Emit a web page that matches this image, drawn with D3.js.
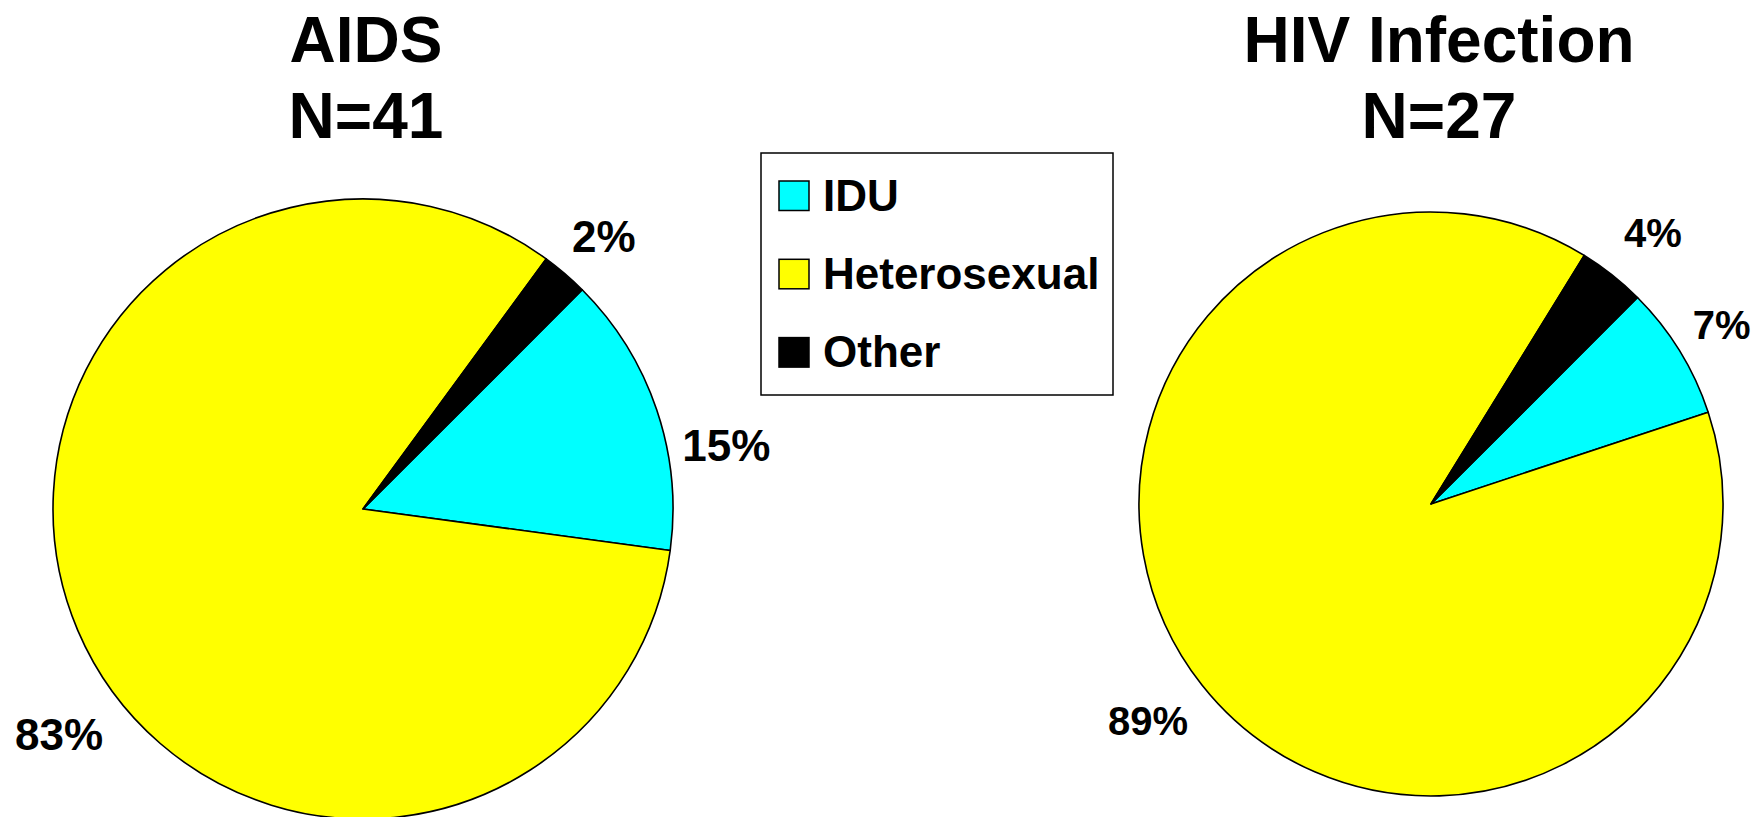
<!DOCTYPE html>
<html>
<head>
<meta charset="utf-8">
<script src="https://d3js.org/d3.v7.min.js"></script>
<style>
  body { margin: 0; background: #fff; }
  text { font-family: "Liberation Sans", Arial, sans-serif; font-weight: bold; fill: #000; }
</style>
</head>
<body>
<div id="chart"></div>
<script>
// data
var categories = ["IDU", "Heterosexual", "Other"];
var colors = ["#00FFFF", "#FFFF00", "#000000"];
var aidsTitle = ["AIDS", "N=41"];
var aidsCounts = [6, 34, 1];
var hivTitle = ["HIV Infection", "N=27"];
var hivCounts = [2, 24, 1];

var width = 1754,
    height = 817;

var svg = d3.select("#chart")
    .append("svg")
    .attr("width", width)
    .attr("height", height);

var color = d3.scaleOrdinal()
    .domain(categories)
    .range(colors);

// pies start at 45 deg, clockwise, in data order
var pie = d3.pie()
    .sort(null)
    .value(function (d) { return d.count; })
    .startAngle(Math.PI / 4)
    .endAngle(Math.PI / 4 + 2 * Math.PI);

// label placement: [angle in deg from 12 o'clock, radius factor]
var charts = [
    { title: aidsTitle, counts: aidsCounts, cx: 363, cy: 509, r: 310, titleX: 366, labelSize: 44,
      labelPos: [[80, 1.19], [233.5, 1.22], [41.4, 1.175]] },
    { title: hivTitle, counts: hivCounts, cx: 1431, cy: 504, r: 292, titleX: 1439, labelSize: 40,
      labelPos: [[58.3, 1.17], [232.6, 1.22], [39.3, 1.2]] }
];

charts.forEach(function (c) {
    var total = d3.sum(c.counts);
    var rows = categories.map(function (k, i) { return { cat: k, count: c.counts[i] }; });

    var arc = d3.arc().innerRadius(0).outerRadius(c.r);

    var g = svg.append("g")
        .attr("transform", "translate(" + c.cx + "," + c.cy + ")");

    g.selectAll("path")
        .data(pie(rows))
        .enter()
        .append("path")
        .attr("d", arc)
        .style("fill", function (d) { return color(d.data.cat); })
        .style("stroke", "#000")
        .style("stroke-width", 1.6)
        .style("stroke-linejoin", "round");

    g.selectAll(".lbl")
        .data(rows)
        .enter()
        .append("text")
        .attr("class", "lbl")
        .attr("text-anchor", "middle")
        .style("font-size", c.labelSize + "px")
        .attr("x", function (d, i) {
            var p = c.labelPos[i];
            return Math.sin(p[0] * Math.PI / 180) * c.r * p[1];
        })
        .attr("y", function (d, i) {
            var p = c.labelPos[i];
            return -Math.cos(p[0] * Math.PI / 180) * c.r * p[1] + 0.358 * c.labelSize;
        })
        .text(function (d) { return Math.round(d.count / total * 100) + "%"; });

    svg.selectAll(null)
        .data(c.title)
        .enter()
        .append("text")
        .attr("text-anchor", "middle")
        .attr("x", c.titleX)
        .attr("y", function (d, i) { return 61.7 + i * 76; })
        .style("font-size", "64px")
        .text(function (d) { return d; });
});

// legend
var legend = svg.append("g").attr("transform", "translate(761,153)");

legend.append("rect")
    .attr("width", 352)
    .attr("height", 242)
    .style("fill", "#fff")
    .style("stroke", "#000")
    .style("stroke-width", 1.5);

var item = legend.selectAll(".item")
    .data(categories)
    .enter()
    .append("g")
    .attr("class", "item")
    .attr("transform", function (d, i) { return "translate(18," + (28 + i * 78.3) + ")"; });

item.append("rect")
    .attr("width", 30)
    .attr("height", 29.5)
    .style("fill", function (d) { return color(d); })
    .style("stroke", "#000")
    .style("stroke-width", 1.5);

item.append("text")
    .attr("x", 44)
    .attr("y", 29.7)
    .style("font-size", "44px")
    .text(function (d) { return d; });
</script>
</body>
</html>
